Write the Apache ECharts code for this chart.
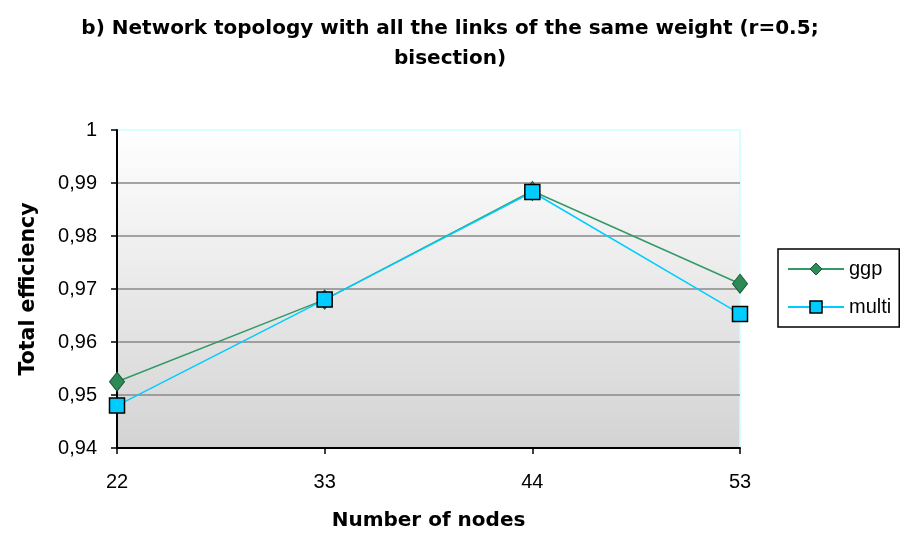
<!DOCTYPE html>
<html><head><meta charset="utf-8">
<script src="https://cdn.jsdelivr.net/npm/echarts@6/dist/echarts.min.js"></script>
<style>html,body{margin:0;padding:0;background:#fff}#c{width:900px;height:541px}</style>
</head><body><div id="c"></div>
<script>
var categories = ['22', '33', '44', '53'];
var ggp = [0.9525, 0.968, 0.9885, 0.971];
var multi = [0.948, 0.968, 0.9883, 0.9653];
var yTicks = [0.94, 0.95, 0.96, 0.97, 0.98, 0.99, 1];

var chart = echarts.init(document.getElementById('c'), null, {renderer: 'canvas'});
var font = "'Liberation Sans', Arial, sans-serif";
var boldFont = "'DejaVu Sans', sans-serif";
chart.setOption({
  animation: false,
  backgroundColor: '#fff',
  title: {
    text: 'b) Network topology with all the links of the same weight (r=0.5;\nbisection)',
    left: 'center', top: 9,
    textStyle: {fontFamily: boldFont, fontWeight: 'bold', fontSize: 20, color: '#000', lineHeight: 30}
  },
  legend: {
    orient: 'vertical', left: 778, top: 249,
    padding: [10, 8, 10, 9], itemGap: 18,
    borderColor: '#000', borderWidth: 1.5,
    itemWidth: 56, itemHeight: 15,
    textStyle: {fontFamily: font, fontSize: 20, color: '#000'},
    data: [
      {name: 'ggp', itemStyle: {borderColor: '#1a5c38', borderWidth: 1}},
      {name: 'multi', itemStyle: {borderColor: '#000', borderWidth: 1.5}}
    ]
  },
  grid: {
    left: 117, right: 160, top: 130, bottom: 93,
    show: true,
    borderColor: '#ccffff', borderWidth: 1.5,
    backgroundColor: new echarts.graphic.LinearGradient(0, 0, 0, 1, [
      {offset: 0, color: '#ffffff'}, {offset: 1, color: '#d3d3d3'}
    ])
  },
  xAxis: {
    type: 'category', data: categories, boundaryGap: false,
    name: 'Number of nodes', nameLocation: 'middle', nameGap: 63,
    nameTextStyle: {fontFamily: boldFont, fontWeight: 'bold', fontSize: 20, color: '#000'},
    axisLine: {lineStyle: {color: '#000', width: 2}},
    axisTick: {show: true, length: 6, lineStyle: {color: '#000', width: 1.5}},
    axisLabel: {fontFamily: font, fontSize: 20, color: '#000', margin: 24},
    splitLine: {show: false}
  },
  yAxis: {
    type: 'value', min: yTicks[0], max: yTicks[yTicks.length - 1], interval: 0.01,
    name: 'Total efficiency', nameLocation: 'middle', nameGap: 78, nameRotate: 90,
    nameTextStyle: {fontFamily: boldFont, fontWeight: 'bold', fontSize: 20.5, color: '#000'},
    axisLine: {show: true, lineStyle: {color: '#000', width: 2}},
    axisTick: {show: true, length: 6, lineStyle: {color: '#000', width: 1.5}},
    axisLabel: {
      fontFamily: font, fontSize: 20, color: '#000', margin: 20,
      formatter: function (v) { return v === 1 ? '1' : v.toFixed(2).replace('.', ','); }
    },
    splitLine: {show: true, showMaxLine: false, lineStyle: {color: '#888', width: 1.5}}
  },
  series: [
    {
      name: 'ggp', type: 'line', data: ggp,
      symbol: 'diamond', symbolSize: [15, 19],
      lineStyle: {color: '#339966', width: 1.5},
      itemStyle: {color: '#2e8b57', borderColor: '#1a5c38', borderWidth: 1}
    },
    {
      name: 'multi', type: 'line', data: multi,
      symbol: 'rect', symbolSize: 15,
      lineStyle: {color: '#00ccff', width: 1.5},
      itemStyle: {color: '#00ccff', borderColor: '#000', borderWidth: 1.5}
    }
  ]
});
</script></body></html>
